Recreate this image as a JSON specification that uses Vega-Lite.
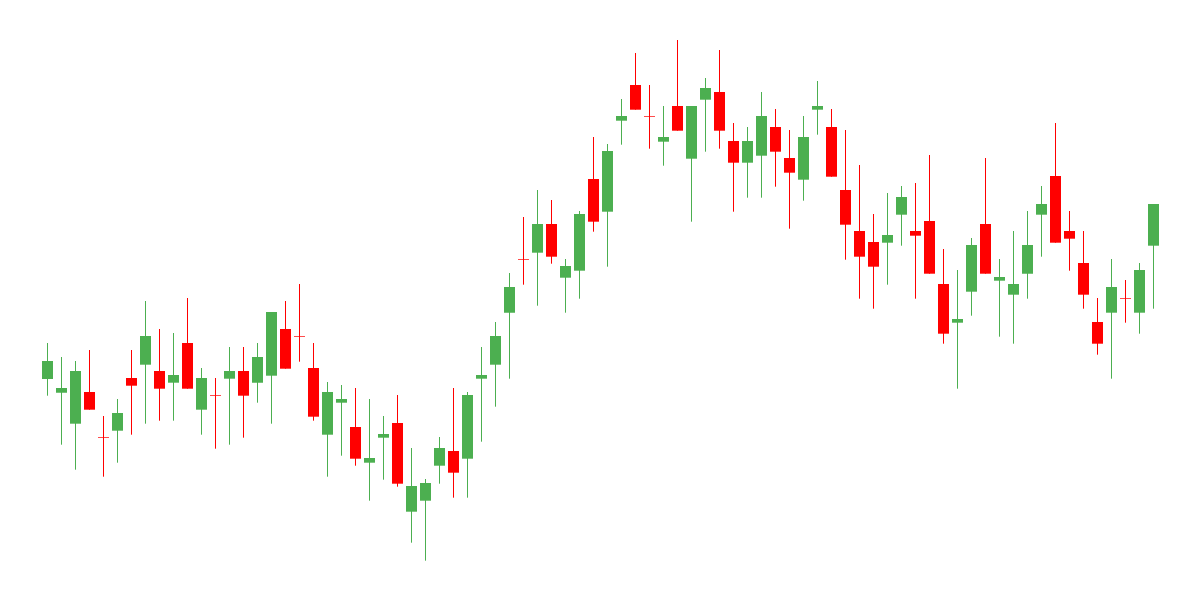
{
  "$schema": "https://vega.github.io/schema/vega-lite/v6.json",
  "width": 1200,
  "height": 600,
  "padding": 0,
  "autosize": {"type": "fit", "contains": "padding"},
  "background": "white",
  "config": {"view": {"stroke": null}},
  "data": {"values": [
    {"day": 0, "open": 221, "high": 257, "low": 204.3, "close": 239},
    {"day": 1, "open": 207.3, "high": 243, "low": 155.3, "close": 212},
    {"day": 2, "open": 176.3, "high": 239, "low": 130.3, "close": 229},
    {"day": 3, "open": 208, "high": 250, "low": 190.3, "close": 190.3},
    {"day": 4, "open": 162.5, "high": 184, "low": 123.3, "close": 162.5},
    {"day": 5, "open": 169.3, "high": 201, "low": 137.3, "close": 187},
    {"day": 6, "open": 222, "high": 250, "low": 165.3, "close": 214.3},
    {"day": 7, "open": 235.3, "high": 299, "low": 176.3, "close": 264},
    {"day": 8, "open": 229, "high": 271, "low": 179.3, "close": 211.3},
    {"day": 9, "open": 217.3, "high": 267, "low": 179.3, "close": 225},
    {"day": 10, "open": 257, "high": 302, "low": 211.3, "close": 211.3},
    {"day": 11, "open": 190.3, "high": 232, "low": 165.3, "close": 222},
    {"day": 12, "open": 204.5, "high": 222, "low": 151.3, "close": 204.5},
    {"day": 13, "open": 221.3, "high": 253, "low": 155.3, "close": 229},
    {"day": 14, "open": 229, "high": 253, "low": 162.3, "close": 204.3},
    {"day": 15, "open": 217.3, "high": 257, "low": 197.3, "close": 243},
    {"day": 16, "open": 224.3, "high": 288, "low": 176.3, "close": 288},
    {"day": 17, "open": 271, "high": 299, "low": 231.3, "close": 231.3},
    {"day": 18, "open": 263.5, "high": 316, "low": 238.3, "close": 263.5},
    {"day": 19, "open": 232, "high": 257, "low": 179.3, "close": 183.3},
    {"day": 20, "open": 165.3, "high": 218, "low": 123.3, "close": 208},
    {"day": 21, "open": 197.3, "high": 215, "low": 144.3, "close": 201},
    {"day": 22, "open": 173, "high": 212, "low": 134.3, "close": 141.3},
    {"day": 23, "open": 137.3, "high": 201, "low": 99.3, "close": 142},
    {"day": 24, "open": 162.3, "high": 184, "low": 120.3, "close": 166},
    {"day": 25, "open": 177, "high": 205, "low": 113.3, "close": 116.3},
    {"day": 26, "open": 88.3, "high": 152, "low": 57.3, "close": 114},
    {"day": 27, "open": 99.3, "high": 121, "low": 39.3, "close": 117},
    {"day": 28, "open": 134.3, "high": 163, "low": 116.3, "close": 152},
    {"day": 29, "open": 149, "high": 212, "low": 102.3, "close": 127.3},
    {"day": 30, "open": 141.3, "high": 208, "low": 102.3, "close": 205},
    {"day": 31, "open": 221.3, "high": 253, "low": 158.3, "close": 225},
    {"day": 32, "open": 235.3, "high": 278, "low": 193.3, "close": 264},
    {"day": 33, "open": 287.3, "high": 327, "low": 221.3, "close": 313},
    {"day": 34, "open": 340.5, "high": 383, "low": 315.3, "close": 340.5},
    {"day": 35, "open": 347.3, "high": 410, "low": 294.3, "close": 376},
    {"day": 36, "open": 376, "high": 400, "low": 336.3, "close": 343.3},
    {"day": 37, "open": 322.3, "high": 341, "low": 287.3, "close": 334},
    {"day": 38, "open": 329.3, "high": 389, "low": 301.3, "close": 386},
    {"day": 39, "open": 421, "high": 463, "low": 368.3, "close": 378.3},
    {"day": 40, "open": 388.3, "high": 456, "low": 333.3, "close": 449},
    {"day": 41, "open": 479.3, "high": 501, "low": 455.3, "close": 484},
    {"day": 42, "open": 515, "high": 547, "low": 490.3, "close": 490.3},
    {"day": 43, "open": 483.5, "high": 515, "low": 451.3, "close": 483.5},
    {"day": 44, "open": 458.3, "high": 494, "low": 434.3, "close": 463},
    {"day": 45, "open": 494, "high": 560, "low": 469.3, "close": 469.3},
    {"day": 46, "open": 441.3, "high": 494, "low": 378.3, "close": 494},
    {"day": 47, "open": 500.3, "high": 522, "low": 448.3, "close": 512},
    {"day": 48, "open": 508, "high": 550, "low": 451.3, "close": 469.3},
    {"day": 49, "open": 459, "high": 477, "low": 388.3, "close": 437.3},
    {"day": 50, "open": 437.3, "high": 473, "low": 402.3, "close": 459},
    {"day": 51, "open": 444.3, "high": 508, "low": 402.3, "close": 484},
    {"day": 52, "open": 473, "high": 491, "low": 413.3, "close": 448.3},
    {"day": 53, "open": 442, "high": 470, "low": 371.3, "close": 427.3},
    {"day": 54, "open": 420.3, "high": 484, "low": 399.3, "close": 463},
    {"day": 55, "open": 490.3, "high": 519, "low": 465.3, "close": 494},
    {"day": 56, "open": 473, "high": 491, "low": 423.3, "close": 423.3},
    {"day": 57, "open": 410, "high": 470, "low": 340.3, "close": 375.3},
    {"day": 58, "open": 369, "high": 435, "low": 301.3, "close": 343.3},
    {"day": 59, "open": 358, "high": 386, "low": 291.3, "close": 333.3},
    {"day": 60, "open": 357.3, "high": 407, "low": 315.3, "close": 365},
    {"day": 61, "open": 385.3, "high": 414, "low": 354.3, "close": 403},
    {"day": 62, "open": 369, "high": 417, "low": 301.3, "close": 364.3},
    {"day": 63, "open": 379, "high": 445, "low": 326.3, "close": 326.3},
    {"day": 64, "open": 316, "high": 351, "low": 256.3, "close": 266.3},
    {"day": 65, "open": 277.3, "high": 330, "low": 211.3, "close": 281},
    {"day": 66, "open": 308.3, "high": 362, "low": 284.3, "close": 355},
    {"day": 67, "open": 376, "high": 442, "low": 326.3, "close": 326.3},
    {"day": 68, "open": 319.3, "high": 341, "low": 263.3, "close": 323},
    {"day": 69, "open": 305.3, "high": 369, "low": 256.3, "close": 316},
    {"day": 70, "open": 326.3, "high": 389, "low": 301.3, "close": 355},
    {"day": 71, "open": 385.3, "high": 414, "low": 343.3, "close": 396},
    {"day": 72, "open": 424, "high": 477, "low": 357.3, "close": 357.3},
    {"day": 73, "open": 369, "high": 389, "low": 329.3, "close": 361.3},
    {"day": 74, "open": 337, "high": 369, "low": 291.3, "close": 305.3},
    {"day": 75, "open": 278, "high": 302, "low": 245.3, "close": 256.3},
    {"day": 76, "open": 287.3, "high": 341, "low": 221.3, "close": 313},
    {"day": 77, "open": 301.5, "high": 320, "low": 277.3, "close": 301.5},
    {"day": 78, "open": 287.3, "high": 337, "low": 266.3, "close": 330},
    {"day": 79, "open": 354.3, "high": 396, "low": 291.3, "close": 396}
  ]},
  "encoding": {
    "x": {"field": "day", "type": "quantitative", "scale": {"domain": [-3.3929, 82.3214], "nice": false, "zero": false, "padding": 0}, "axis": null},
    "color": {"condition": {"test": "datum.close > datum.open", "value": "#4caf50"}, "value": "#ff0000"}
  },
  "layer": [
    {
      "mark": {"type": "rule", "strokeWidth": 1},
      "encoding": {
        "y": {"field": "low", "type": "quantitative", "scale": {"domain": [0, 600], "nice": false, "zero": false, "padding": 0}, "axis": null},
        "y2": {"field": "high"}
      }
    },
    {
      "mark": {"type": "bar", "width": 11},
      "encoding": {
        "y": {"field": "open", "type": "quantitative", "scale": {"domain": [0, 600], "nice": false, "zero": false, "padding": 0}, "axis": null},
        "y2": {"field": "close"}
      }
    },
    {
      "transform": [{"filter": "datum.open == datum.close"}],
      "mark": {"type": "tick", "orient": "horizontal", "size": 11, "thickness": 1},
      "encoding": {
        "y": {"field": "open", "type": "quantitative", "scale": {"domain": [0, 600], "nice": false, "zero": false, "padding": 0}, "axis": null}
      }
    }
  ]
}
